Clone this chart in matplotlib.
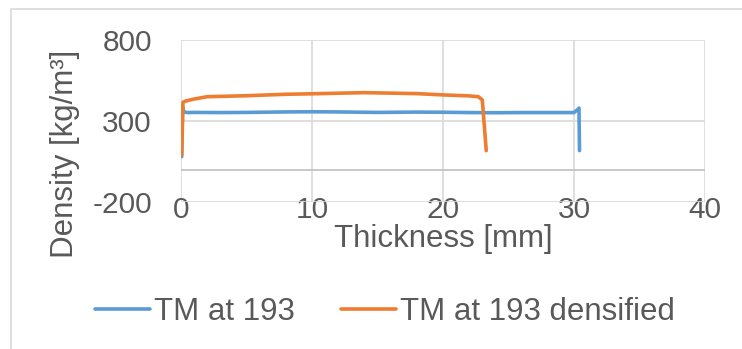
import matplotlib.pyplot as plt
from matplotlib.patches import Rectangle

# values
thickness_tm = [0.05, 0.12, 0.2, 0.5, 1, 3, 5, 8, 10, 12, 15, 18, 20, 22, 24, 26, 28, 30, 30.3, 30.38, 30.42]
density_tm = [80, 385, 357, 352, 353, 352, 353, 356, 357, 356, 353, 355, 354, 352, 351, 352, 352, 352, 372, 380, 117]

thickness_dens = [0.05, 0.15, 0.3, 0.9, 2, 5, 8, 10, 14, 18, 20, 22, 22.7, 23.0, 23.3]
density_dens = [90, 415, 422, 434, 450, 456, 465, 468, 475, 469, 461, 455, 450, 430, 117]

series_names = ["TM at 193", "TM at 193 densified"]
x_ticks = [0, 10, 20, 30, 40]
y_ticks = [-200, 300, 800]

plt.rcParams['font.family'] = ['Liberation Sans', 'DejaVu Sans']
plt.rcParams['axes.unicode_minus'] = False

W, H = 742, 349
fig = plt.figure(figsize=(W / 100, H / 100), dpi=100)
ax = fig.add_axes([181 / W, 1 - 202 / H, 524 / W, 162 / H])

# chart area border (only left and top edge visible)
fig.add_artist(Rectangle((11 / W, -0.1), 1.2, 1 - 9 / H + 0.1, transform=fig.transFigure,
                         fill=False, ec='#D9D9D9', lw=1.2))

blue = '#5B9BD5'
orange = '#ED7D31'
text_col = '#595959'

ax.plot(thickness_tm, density_tm, color=blue, lw=2.6, label=series_names[0], solid_capstyle='round')
ax.plot(thickness_dens, density_dens, color=orange, lw=2.6, label=series_names[1], solid_capstyle='round')

ax.set_xlim(0, 40)
ax.set_ylim(-200, 800)
ax.set_xticks(x_ticks)
ax.set_yticks(y_ticks)
ax.grid(True, color='#D9D9D9', lw=1.2)
ax.set_axisbelow(True)
ax.axhline(0, color='#BFBFBF', lw=1.2, zorder=1)
for s in ax.spines.values():
    s.set_visible(False)

ax.tick_params(axis='both', length=0, labelsize=21.5, labelcolor=text_col)
ax.tick_params(axis='x', pad=-4.5)
ax.tick_params(axis='y', pad=21)

ax.set_xlabel("Thickness [mm]", fontsize=22.5, color=text_col)
ax.set_ylabel("Density [kg/m³]", fontsize=22.5, color=text_col)
ax.xaxis.set_label_coords(0.5, -0.135)
ax.yaxis.set_label_coords(-0.193, 0.296)

fig.legend(loc='center', bbox_to_anchor=(385 / W, 1 - 312 / H), ncol=2, frameon=False,
           fontsize=22.5, labelcolor=text_col, handlelength=1.77, handletextpad=0.13,
           columnspacing=1.45, borderaxespad=0)

fig.savefig('out.png', dpi=100)
